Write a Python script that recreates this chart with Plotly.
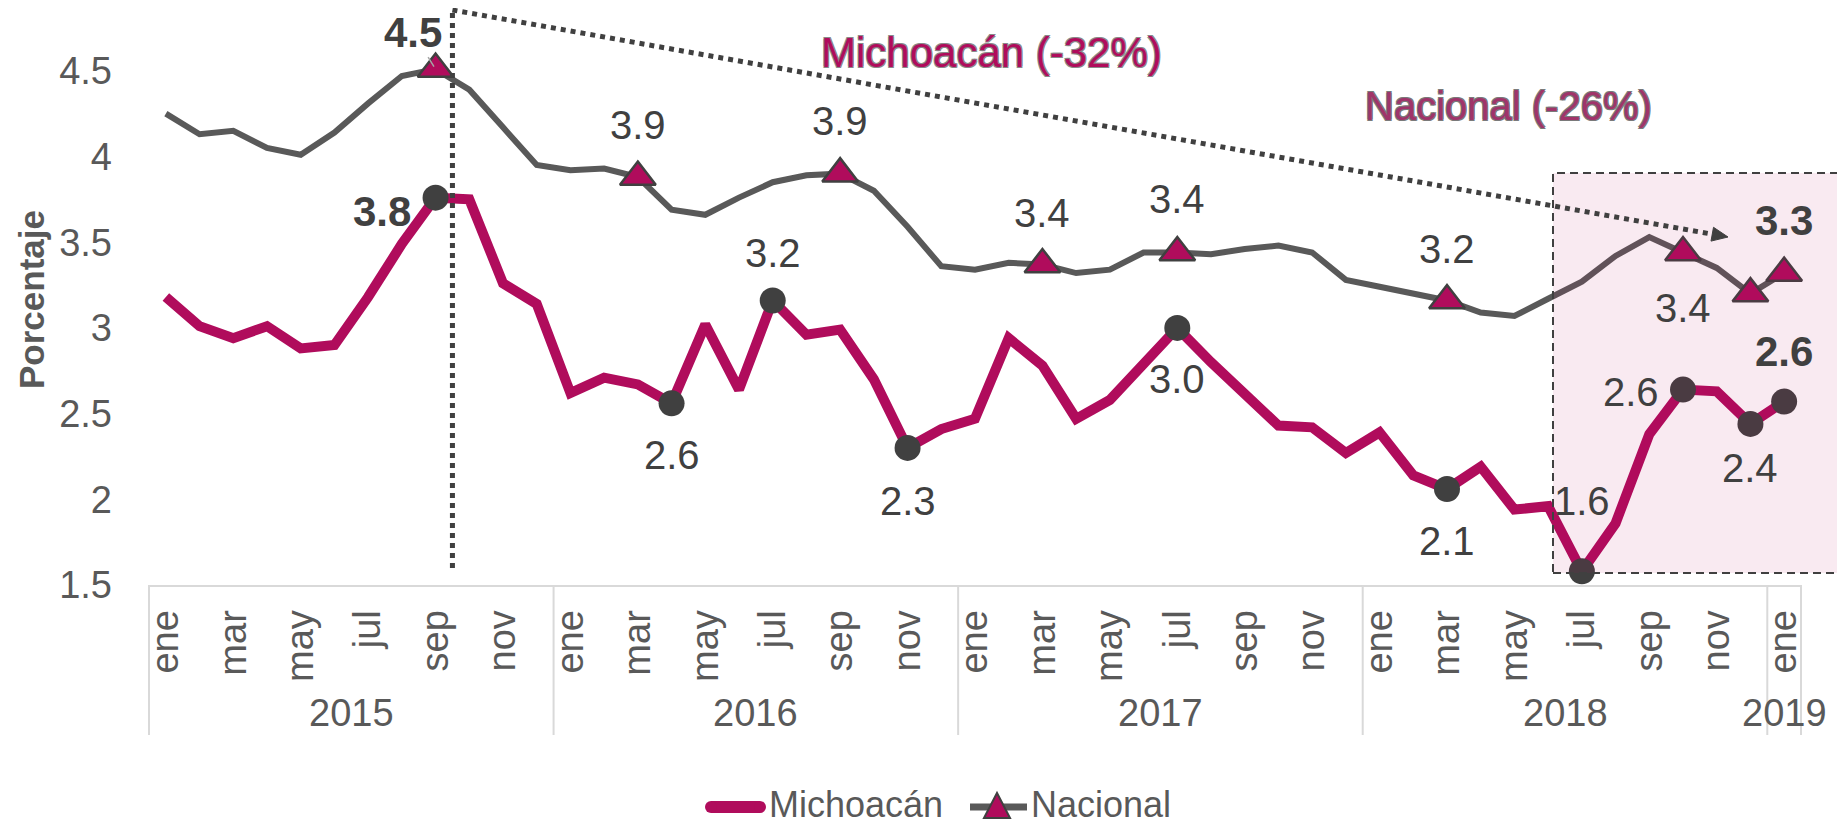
import math
import plotly.graph_objects as go

# ---------------- data ----------------
meses = ["ene", "feb", "mar", "abr", "may", "jun", "jul", "ago", "sep", "oct", "nov", "dic"]
anios = ["2015", "2016", "2017", "2018", "2019"]
periodos = [f"{m} {a}" for a in anios for m in meses][:49]   # ene 2015 .. ene 2019

michoacan = [3.18, 3.01, 2.94, 3.01, 2.88, 2.90, 3.18, 3.49, 3.76, 3.75, 3.26, 3.14,
             2.62, 2.71, 2.67, 2.56, 3.02, 2.64, 3.16, 2.96, 2.99, 2.70, 2.30, 2.41,
             2.47, 2.94, 2.78, 2.47, 2.58, 2.78, 3.00, 2.80, 2.62, 2.43, 2.42, 2.27,
             2.39, 2.14, 2.06, 2.19, 1.94, 1.96, 1.58, 1.86, 2.38, 2.64, 2.63, 2.44, 2.57]
nacional = [4.25, 4.13, 4.15, 4.05, 4.01, 4.14, 4.31, 4.47, 4.51, 4.39, 4.17, 3.95,
            3.92, 3.93, 3.88, 3.69, 3.66, 3.76, 3.85, 3.89, 3.90, 3.80, 3.59, 3.36,
            3.34, 3.38, 3.37, 3.32, 3.34, 3.44, 3.44, 3.43, 3.46, 3.48, 3.44, 3.28,
            3.24, 3.20, 3.16, 3.09, 3.07, 3.17, 3.27, 3.42, 3.53, 3.44, 3.35, 3.20, 3.32]

mich_marcados = [8, 15, 18, 22, 30, 38, 42, 45, 47, 48]
nac_marcados = [8, 14, 20, 26, 30, 38, 45, 47, 48]

y_ticks = [1.5, 2, 2.5, 3, 3.5, 4, 4.5]
y_ticktext = ["1.5", "2", "2.5", "3", "3.5", "4", "4.5"]

titulo_mich = "Michoacán (-32%)"
titulo_nac = "Nacional (-26%)"

# ---------------- style / layout ----------------
OFF = 8                      # page body margin of the html page
W, H = 1845 - 2 * OFF, 836 - 2 * OFF
# plot area in page pixels
PL, PR, PT, PB = 149, 1801, OFF, 585
N = len(periodos)
YMIN = 1.5
PX_PER_UNIT = 171.4
YMAX = YMIN + (PB - PT) / PX_PER_UNIT

MAG = "#B00C5C"
GRAY_LINE = "#595959"
DARK = "#404040"
AXIS_GRAY = "#D9D9D9"
TXT = "#595959"
FONT = "Liberation Sans Narrow, Arial Narrow, Liberation Sans, Arial, sans-serif"


def px_x(px):
    return (px - PL) / (PR - PL)


def px_y(py):
    return (PB - py) / (PB - PT)


def data_px_x(v):
    return PL + (v + 0.5) * (PR - PL) / N


def ptext(x, y, text, font, xanchor="center", yanchor="middle", **kw):
    d = dict(x=px_x(x), y=px_y(y), xref="paper", yref="paper", text=text,
             showarrow=False, xanchor=xanchor, yanchor=yanchor, font=font)
    d.update(kw)
    return d


idx = list(range(N))

fig = go.Figure()

fig.add_trace(go.Scatter(x=idx, y=michoacan, mode="lines", name="Michoacán",
                         line=dict(color=MAG, width=10), cliponaxis=False,
                         showlegend=False, hoverinfo="skip"))
fig.add_trace(go.Scatter(x=idx, y=nacional, mode="lines", name="Nacional",
                         line=dict(color=GRAY_LINE, width=6), cliponaxis=False,
                         showlegend=False, hoverinfo="skip"))
fig.add_trace(go.Scatter(x=mich_marcados, y=[michoacan[i] for i in mich_marcados],
                         mode="markers", marker=dict(color=DARK, size=26),
                         cliponaxis=False, showlegend=False, hoverinfo="skip"))
fig.add_trace(go.Scatter(x=nac_marcados, y=[nacional[i] for i in nac_marcados],
                         mode="markers",
                         marker=dict(color=MAG, size=31, symbol="triangle-up",
                                     line=dict(color=DARK, width=2.5)),
                         cliponaxis=False, showlegend=False, hoverinfo="skip"))

annotations = []
shapes = []

# data labels: offsets (dx, dy screen px) of the text centre from the point
nac_lbl = {8: (-23, -37, True), 14: (0, -52, False), 20: (0, -53, False),
           26: (0, -51, False), 30: (0, -53, False), 38: (0, -51, False),
           45: (0, 56, False), 48: (0, -53, True)}
mich_lbl = {8: (-54, 14, True), 15: (0, 52, False), 18: (0, -47, False),
            22: (0, 53, False), 30: (0, 51, False), 38: (0, 52, False),
            42: (0, -70, False), 45: (-52, 2, False), 47: (0, 44, False),
            48: (0, -50, True)}

for serie, lbls in ((nacional, nac_lbl), (michoacan, mich_lbl)):
    for i, (ddx, ddy, bold) in lbls.items():
        txt = f"{serie[i]:.1f}"
        f = dict(family=FONT, size=42 if bold else 40, color=DARK,
                 weight="bold" if bold else "normal")
        if serie is nacional and i == 8:
            annotations.append(dict(x=i, y=serie[i], xref="x", yref="y", text=txt,
                                    showarrow=True, ax=ddx, ay=ddy, arrowhead=0,
                                    arrowwidth=1.5, arrowcolor="#A6A6A6", standoff=3,
                                    font=f))
        else:
            annotations.append(dict(x=i, y=serie[i], xref="x", yref="y", text=txt,
                                    showarrow=False, xshift=ddx, yshift=-ddy,
                                    xanchor="center", yanchor="middle", font=f))

# series titles
annotations.append(ptext(991, 52, titulo_mich,
                         dict(family=FONT, size=42, color=MAG,
                              shadow="1px 1px 0 #8A8A8A, -1px -1px 0 #8A8A8A, 1px -1px 0 #8A8A8A, -1px 1px 0 #8A8A8A")))
annotations.append(ptext(1508, 106, titulo_nac,
                         dict(family=FONT, size=40, color="#A0346A",
                              shadow="1px 1px 0 #7A7A7A, -1px -1px 0 #7A7A7A, 1px -1px 0 #7A7A7A, -1px 1px 0 #7A7A7A")))

# y axis title
annotations.append(ptext(32, 300, "Porcentaje",
                         dict(family="Liberation Sans, Arial, sans-serif", size=35,
                              color=TXT, weight="bold"), textangle=-90))

# year group labels and dividers
for a in anios:
    members = [i for i, p in enumerate(periodos) if p.endswith(a)]
    c = (members[0] + members[-1]) / 2
    annotations.append(ptext(data_px_x(c), 713, a, dict(family=FONT, size=38, color=TXT)))
    b = data_px_x(members[0] - 0.5)
    shapes.append(dict(type="line", xref="paper", yref="paper",
                       x0=px_x(b), x1=px_x(b), y0=px_y(PB), y1=px_y(735),
                       line=dict(color=AXIS_GRAY, width=2)))
e = data_px_x(N - 0.5)
shapes.append(dict(type="line", xref="paper", yref="paper",
                   x0=px_x(e), x1=px_x(e), y0=px_y(PB), y1=px_y(735),
                   line=dict(color=AXIS_GRAY, width=2)))

# highlighted box (last months)
shapes.append(dict(type="rect", xref="paper", yref="paper",
                   x0=px_x(1553), x1=px_x(1840), y0=px_y(573), y1=px_y(173),
                   fillcolor="rgba(180,10,90,0.085)", layer="above",
                   line=dict(color=DARK, width=2, dash="8px,5px")))

# vertical dotted line and dotted trend arrow
vx = data_px_x(8.5)
shapes.append(dict(type="line", xref="paper", yref="paper",
                   x0=px_x(vx), x1=px_x(vx), y0=px_y(568), y1=px_y(10),
                   line=dict(color=DARK, width=5, dash="dot")))
tip = (1728, 237)
ang = math.atan2(tip[1] - 10, tip[0] - vx)
hl, hw = 16, 7
base = (tip[0] - hl * math.cos(ang), tip[1] - hl * math.sin(ang))
shapes.append(dict(type="line", xref="paper", yref="paper",
                   x0=px_x(vx), y0=px_y(10), x1=px_x(base[0]), y1=px_y(base[1]),
                   line=dict(color=DARK, width=5, dash="dot")))
c1 = (base[0] - hw * math.sin(ang) - tip[0], base[1] + hw * math.cos(ang) - tip[1])
c2 = (base[0] + hw * math.sin(ang) - tip[0], base[1] - hw * math.cos(ang) - tip[1])
shapes.append(dict(type="path", xref="paper", yref="paper",
                   xsizemode="pixel", ysizemode="pixel",
                   xanchor=px_x(tip[0]), yanchor=px_y(tip[1]),
                   path=f"M 0,0 L {c1[0]:.1f},{-c1[1]:.1f} L {c2[0]:.1f},{-c2[1]:.1f} Z",
                   fillcolor=DARK, line=dict(color=DARK, width=1)))

# custom legend
LY = 807
shapes.append(dict(type="line", xref="paper", yref="paper",
                   x0=px_x(711), x1=px_x(760), y0=px_y(LY), y1=px_y(LY),
                   line=dict(color=MAG, width=12)))
for cx in (711, 760):
    shapes.append(dict(type="circle", xref="paper", yref="paper",
                       xsizemode="pixel", ysizemode="pixel",
                       xanchor=px_x(cx), yanchor=px_y(LY),
                       x0=-6, x1=6, y0=-6, y1=6, fillcolor=MAG, line=dict(width=0)))
annotations.append(ptext(767, LY - 3, "Michoacán", dict(family=FONT, size=36, color=TXT),
                         xanchor="left"))
shapes.append(dict(type="line", xref="paper", yref="paper",
                   x0=px_x(970), x1=px_x(1027), y0=px_y(LY), y1=px_y(LY),
                   line=dict(color=GRAY_LINE, width=7)))
shapes.append(dict(type="path", xref="paper", yref="paper",
                   xsizemode="pixel", ysizemode="pixel",
                   xanchor=px_x(997), yanchor=px_y(LY),
                   path="M -13,-11 L 13,-11 L 0,14 Z",
                   fillcolor=MAG, line=dict(color=DARK, width=2)))
annotations.append(ptext(1029, LY - 3, "Nacional", dict(family=FONT, size=36, color=TXT),
                         xanchor="left"))

fig.update_layout(
    width=W, height=H,
    margin=dict(l=PL - OFF, r=(W + OFF) - PR, t=PT - OFF, b=(H + OFF) - PB, pad=0),
    paper_bgcolor="white", plot_bgcolor="white",
    font=dict(family=FONT, color=TXT),
    showlegend=False,
    annotations=annotations, shapes=shapes,
    xaxis=dict(range=[-0.5, N - 0.5], tickmode="array", tickvals=idx[::2],
               ticktext=[periodos[i].split()[0] for i in idx[::2]],
               tickangle=-90, tickfont=dict(family=FONT, size=38, color=TXT),
               showline=True, linecolor=AXIS_GRAY, linewidth=2, ticks="",
               showgrid=False, zeroline=False, ticklabelstandoff=8, fixedrange=True),
    yaxis=dict(range=[YMIN, YMAX], tickmode="array", tickvals=y_ticks,
               ticktext=y_ticktext, tickfont=dict(family=FONT, size=38, color=TXT),
               showline=False, ticks="", showgrid=False, zeroline=False,
               ticklabelstandoff=36, fixedrange=True),
)

fig.write_html("out.html")
